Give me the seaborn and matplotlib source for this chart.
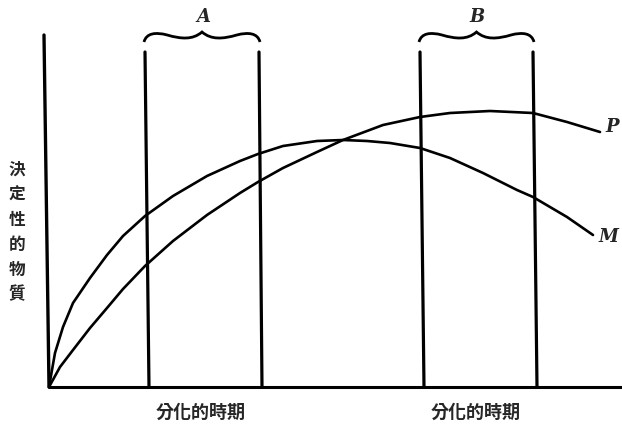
import matplotlib
matplotlib.use("Agg")
import matplotlib.pyplot as plt
import pandas as pd
import seaborn as sns
from matplotlib.patches import PathPatch
from matplotlib.path import Path

# curve M: rises fast, peaks early, then falls
m_x = [0, 6, 14, 24, 41, 58, 74, 96, 124, 158, 191, 209, 234, 268, 294, 318, 341,
       371, 401, 434, 468, 484, 518, 544]
m_y = [0, 34, 60, 84, 109, 132, 151, 171, 191, 211, 226, 233, 241, 246, 247, 246, 244,
       239, 229, 214, 197, 190, 170, 152]
# curve P: rises slowly, peaks late
p_x = [0, 11, 24, 41, 58, 74, 96, 124, 158, 191, 209, 234, 268, 294, 334, 371, 401,
       441, 484, 518, 551]
p_y = [0, 20, 37, 59, 79, 98, 121, 146, 172, 194, 205, 219, 235, 247, 262, 270, 274,
       276, 274, 265, 255]

# period boundaries (bottom x, top x) for A and B
period_names = ["A", "B"]
period_left = [(100, 96), (375, 371)]
period_right = [(213, 210), (488, 484)]
line_top = 335

y_label = "決定性的物質"
x_label = "分化的時期"

sns.set_theme(style="white")
plt.rcParams["font.family"] = ["Noto Sans CJK TC", "DejaVu Sans"]

fig = plt.figure(figsize=(6.22, 4.3), dpi=100)
ax = fig.add_axes([0, 0, 1, 1])
ax.set_xlim(-49, 573)
ax.set_ylim(-43, 387)
ax.axis("off")

df = pd.concat([
    pd.DataFrame({"x": m_x, "y": m_y, "curve": "M"}),
    pd.DataFrame({"x": p_x, "y": p_y, "curve": "P"}),
])
sns.lineplot(data=df, x="x", y="y", hue="curve", palette={"M": "black", "P": "black"},
             sort=False, estimator=None, lw=1.9, legend=False, ax=ax)

# axes
ax.plot([0, -5], [0, 352], color="black", lw=2.4, solid_capstyle="round")
ax.plot([0, 573], [0, 0], color="black", lw=2.2)

for name, (lb, lt), (rb, rt) in zip(period_names, period_left, period_right):
    ax.plot([lb, lt], [0, line_top], color="black", lw=2.3)
    ax.plot([rb, rt], [0, line_top], color="black", lw=2.3)
    # curly brace over the pair
    x0, x1 = lt - 1, rt + 1
    xc = (x0 + x1) / 2
    w = x1 - x0
    yb = 387 - 42
    verts = [
        (x0, yb),
        (x0 + 0.02 * w, yb + 9), (x0 + 0.1 * w, yb + 10), (x0 + 0.2 * w, yb + 7),
        (x0 + 0.32 * w, yb + 3), (xc - 0.08 * w, yb + 2), (xc, yb + 10),
        (xc + 0.08 * w, yb + 2), (x1 - 0.32 * w, yb + 3), (x1 - 0.2 * w, yb + 7),
        (x1 - 0.1 * w, yb + 10), (x1 - 0.02 * w, yb + 9), (x1, yb),
    ]
    codes = [Path.MOVETO] + [Path.CURVE4] * 12
    ax.add_patch(PathPatch(Path(verts, codes), fill=False, lw=2.0, edgecolor="black"))
    ax.text(xc + 1, 370, name, fontsize=13, fontweight="bold", fontstyle="italic",
            family="DejaVu Serif", ha="center", va="center")
    ax.text((lb + rb) / 2 - 5, -25, x_label, fontsize=13, fontweight="bold",
            ha="center", va="center")

ax.text(m_x[-1] + 15, m_y[-1] - 2, "M", fontsize=13, fontweight="bold", fontstyle="italic",
        family="DejaVu Serif", ha="center", va="center")
ax.text(p_x[-1] + 12, p_y[-1] + 5, "P", fontsize=13, fontweight="bold", fontstyle="italic",
        family="DejaVu Serif", ha="center", va="center")

ax.text(-32, 155, "\n".join(y_label), fontsize=12, fontweight="bold",
        ha="center", va="center", linespacing=1.5)

fig.savefig("out.png", dpi=100)
